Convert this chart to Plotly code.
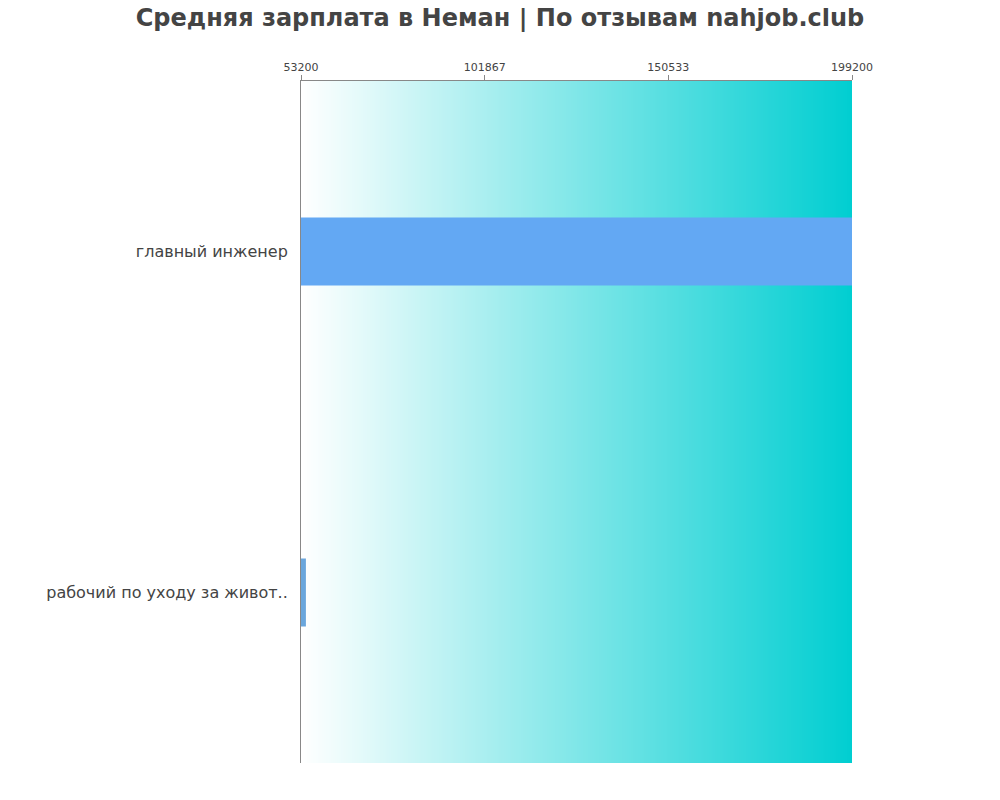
import plotly.graph_objects as go

# data
professions = ["главный инженер", "рабочий по уходу за живот.."]
salaries = [199200, 54500]
bar_colors = ["#63A8F3", "#6AA6DC"]
tick_values = [53200, 101867, 150533, 199200]
x_min, x_max = 53200, 199200

fig = go.Figure()

# gradient background (white -> turquoise) as a smoothed heatmap on the base axes
fig.add_trace(go.Heatmap(x=[x_min, x_max], y=[0, 1], z=[[0, 1], [0, 1]],
                         zsmooth="best", showscale=False, hoverinfo="skip",
                         colorscale=[[0, "#FFFFFF"], [1, "#00CED1"]],
                         xaxis="x", yaxis="y"))

fig.add_trace(go.Bar(x=salaries, y=professions, orientation="h", width=0.2,
                     marker=dict(color=bar_colors, line_width=0),
                     xaxis="x2", yaxis="y2",
                     hovertemplate="%{y}: %{x}<extra></extra>"))

fig.update_layout(
    width=1000, height=800,
    font=dict(family="DejaVu Sans", color="#444444"),
    title=dict(text="<b>Средняя зарплата в Неман | По отзывам nahjob.club</b>",
               x=0.492, xanchor="center", y=0.988, yanchor="middle",
               font=dict(size=24, color="#444444")),
    margin=dict(l=293, r=156, t=73, b=45),
    paper_bgcolor="white", plot_bgcolor="white",
    showlegend=False,
    xaxis=dict(range=[x_min, x_max], visible=False, fixedrange=True),
    yaxis=dict(range=[0, 1], visible=False, fixedrange=True),
    xaxis2=dict(range=[x_min, x_max], overlaying="x", side="top", anchor="y2",
                tickvals=tick_values, ticktext=[str(v) for v in tick_values],
                ticks="outside", ticklen=5, tickcolor="#888888",
                tickfont=dict(size=11, color="#444444"),
                showline=True, linecolor="#888888", linewidth=1,
                showgrid=False, zeroline=False),
    yaxis2=dict(overlaying="y", anchor="x2", autorange="reversed",
                showline=True, linecolor="#888888", linewidth=1,
                ticks="", ticklabelstandoff=9, tickfont=dict(size=16, color="#444444"),
                showgrid=False, zeroline=False),
)

fig.write_html("out.html")
